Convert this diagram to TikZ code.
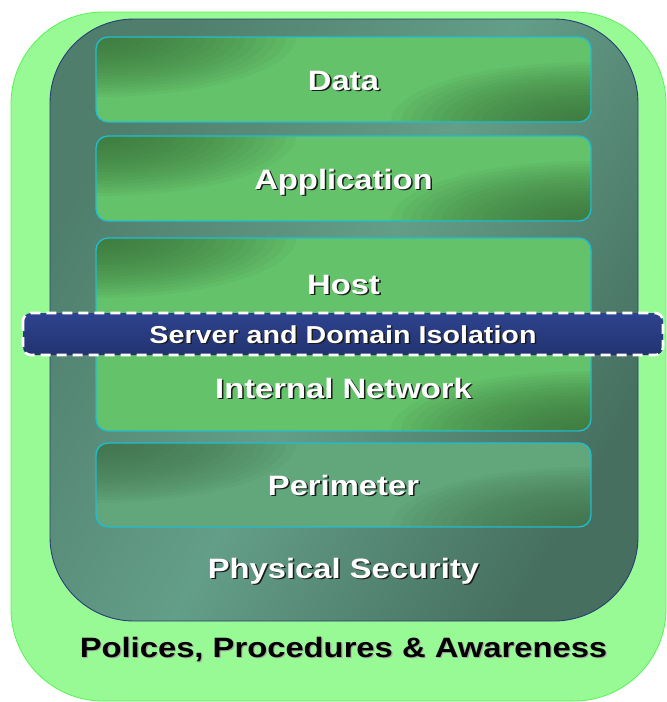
\documentclass[tikz,border=0pt]{standalone}
\usepackage{fontspec}
\setmainfont{Liberation Sans}
\usepackage{graphicx}
\definecolor{outerfill}{HTML}{98FA94}
\definecolor{outerline}{HTML}{55F455}
\definecolor{tealA}{HTML}{4F7E6C}
\definecolor{tealB}{HTML}{639E88}
\definecolor{tealC}{HTML}{466F5F}
\definecolor{innerline}{HTML}{2B3C7A}
\definecolor{grnDark}{HTML}{396C39}
\definecolor{grnB}{HTML}{64C26B}
\definecolor{perDark}{HTML}{3E6C48}
\definecolor{perB}{HTML}{62A67C}
\definecolor{boxline}{HTML}{22BCD0}
\definecolor{bandA}{HTML}{22336F}
\definecolor{bandB}{HTML}{2E4390}
\definecolor{shadowc}{HTML}{1A1A1A}
\newcommand\lyrtxt[1]{\scalebox{1.17}[1]{\rlap{\kern1.3pt\raisebox{-1.3pt}{\textcolor{shadowc}{#1}}}\textcolor{white}{#1}}}
\newcommand\blktxt[1]{\scalebox{1.17}[1]{\rlap{\kern1pt\raisebox{-1pt}{\textcolor{black!35}{#1}}}\textcolor{black}{#1}}}
\tikzset{
  plate/.style={rectangle, inner sep=0pt, outer sep=0pt},
  cornershade/.style 2 args={fill=#2, path picture={
    \foreach \k in {1,...,20}{
      \fill[#1, opacity=0.065] (path picture bounding box.north west)
        ellipse [x radius=\k*10pt, y radius=\k*3pt];
      \fill[#1, opacity=0.065] (path picture bounding box.south east)
        ellipse [x radius=\k*10pt, y radius=\k*3pt];
    }
  }},
  layerbox/.style={plate, draw=boxline, line width=1.3pt, rounded corners=12pt,
    minimum width=495pt, cornershade={grnDark}{grnB}},
  lbl/.style={inner sep=0pt, anchor=base, font=\bfseries\fontsize{28}{30}\selectfont},
  bandlbl/.style={inner sep=0pt, anchor=base, font=\bfseries\fontsize{24.5}{27}\selectfont},
}
\begin{document}
\begin{tikzpicture}[x=1pt,y=-1pt]
\useasboundingbox (0,0) rectangle (667,702);
\node[plate, fill=outerfill, draw=outerline, line width=0.8pt, rounded corners=92pt,
  minimum width=655pt, minimum height=689pt] (outer) at (338.5,356.5) {};
\node[plate, draw=innerline, line width=0.9pt, rounded corners=84pt,
  left color=tealA, right color=tealC, middle color=tealB, shading angle=60,
  minimum width=588pt, minimum height=602pt] (inner) at (344,320) {};
\node[layerbox, minimum height=85pt] (data) at (343.5,79.5) {};
\node[layerbox, minimum height=85pt] (app) at (343.5,178.5) {};
\node[layerbox, minimum height=193pt] (host) at (343.5,334.5) {};
\node[layerbox, minimum height=84pt, cornershade={perDark}{perB}] (peri) at (343.5,485) {};
\node[plate, rounded corners=8pt, top color=bandB, bottom color=bandA,
  minimum width=640pt, minimum height=42pt] (band) at (343,334) {};
\draw[white, line width=2.6pt, dash pattern=on 10pt off 6pt, rounded corners=8pt]
  (band.north west) rectangle (band.south east);
\node[lbl] (tdata) at (343.5,90) {\lyrtxt{Data}};
\node[lbl] (tapp) at (343.5,189) {\lyrtxt{Application}};
\node[lbl] (thost) at (343.5,294) {\lyrtxt{Host}};
\node[bandlbl] (tband) at (343,343) {\lyrtxt{Server and Domain Isolation}};
\node[lbl] (tnet) at (343.5,398) {\lyrtxt{Internal Network}};
\node[lbl] (tperi) at (343.5,495) {\lyrtxt{Perimeter}};
\node[lbl] (tphys) at (343.5,578) {\lyrtxt{Physical Security}};
\node[lbl] (tpol) at (343.5,657) {\blktxt{Polices, Procedures \& Awareness}};
\end{tikzpicture}
\end{document}
